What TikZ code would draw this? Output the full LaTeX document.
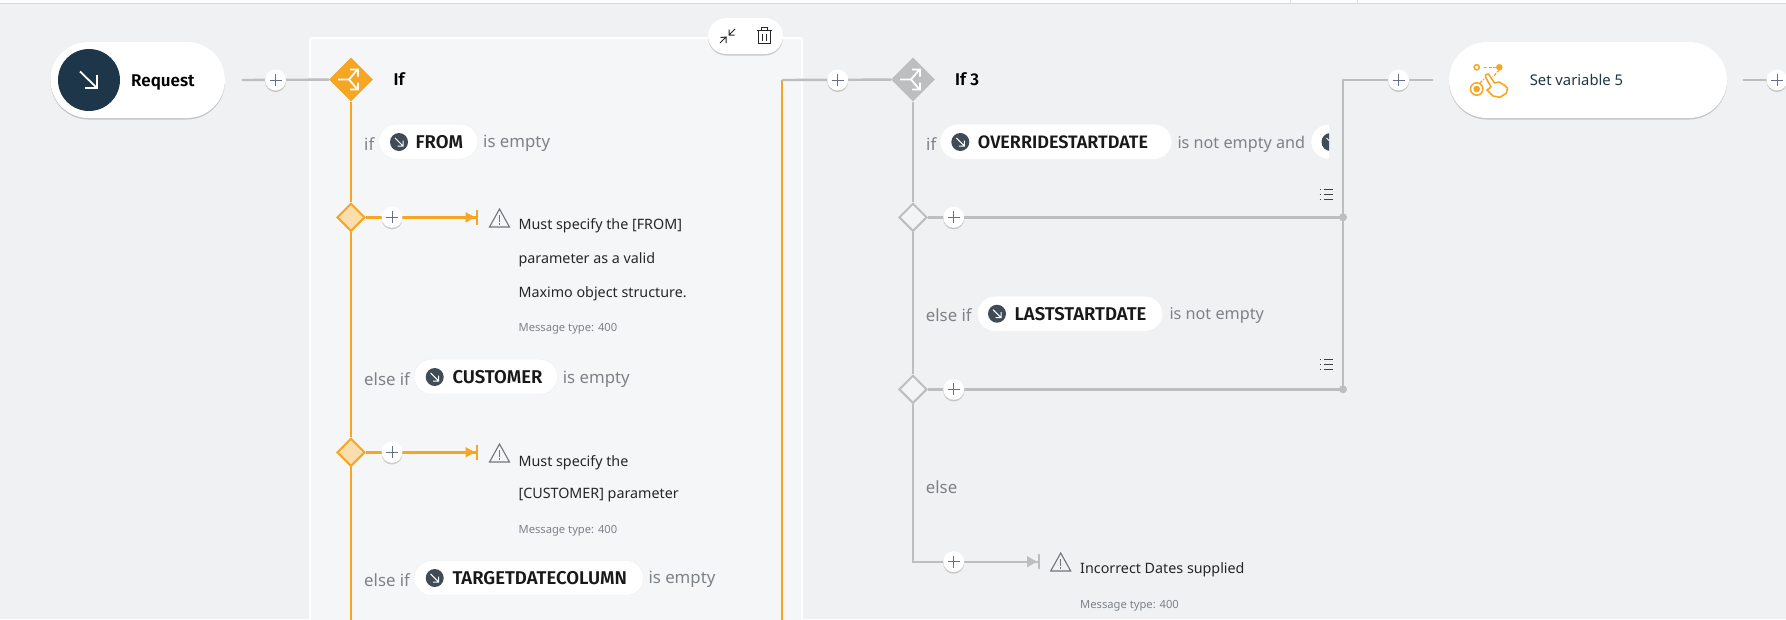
\documentclass[tikz,border=0pt]{standalone}
\usepackage{fontspec}
\setmainfont{Noto Sans}
\newfontfamily\boldf{Fira Sans}[UprightFont=*-SemiBold,BoldFont=*-Bold]
\usetikzlibrary{shapes.geometric,shadows,arrows.meta}
\definecolor{bgc}{HTML}{F0F1F3}
\definecolor{panelc}{HTML}{F5F6F8}
\definecolor{org}{HTML}{F5A623}
\definecolor{orgl}{HTML}{FBDDAE}
\definecolor{gry}{HTML}{BDBEC0}
\definecolor{navy}{HTML}{1D3649}
\definecolor{slatec}{HTML}{3F4B57}
\definecolor{txtg}{HTML}{7C8288}
\definecolor{plusc}{HTML}{66708A}
\tikzset{x=1pt,y=-1pt,
 softshadow/.style={drop shadow={shadow xshift=0pt,shadow yshift=-1.5pt,opacity=.18,fill=black}},
 bigpill/.style={draw=none,fill=white,rounded corners=38pt,minimum height=76pt,softshadow,inner sep=0pt},
 chip/.style={draw=black!6,line width=.5pt,fill=white,rounded corners=17.5pt,minimum height=35pt,inner sep=0pt},
 plusbtn/.style={circle,fill=white,minimum size=21pt,inner sep=0pt,softshadow,
   path picture={\draw[plusc,line width=.8pt] (path picture bounding box.center) ++(-6,0) -- ++(12,0) ++(-6,-6) -- ++(0,12);}},
 bigdia/.style={diamond,aspect=1,minimum size=44pt,inner sep=0pt,fill=#1},
 smalldia/.style={diamond,aspect=1,minimum size=28pt,inner sep=0pt,line width=2pt},
 wire/.style={line width=2.4pt},
 title/.style={font=\fontsize{17}{20}\boldf,anchor=west,inner sep=0pt,text=black},
 cond/.style={font=\fontsize{16.8}{20}\selectfont,anchor=west,inner sep=0pt,text=txtg},
 condn/.style={font=\fontsize{16.2}{20}\selectfont,anchor=west,inner sep=0pt,text=txtg},
 chiptxt/.style={font=\fontsize{18.5}{20}\boldf,anchor=west,inner sep=0pt,text=black!90},
 msg/.style={font=\fontsize{14.3}{16}\selectfont,anchor=west,inner sep=0pt,text=black!85},
 msgsub/.style={font=\fontsize{11.2}{12}\selectfont,anchor=west,inner sep=0pt,text=txtg},
 cdot/.style={circle,fill=slatec,minimum size=18pt,inner sep=0pt},
}
\newcommand{\branchicon}[1]{\draw[white,line width=1.8pt,shift={(#1)}] (-13,0) -- (-2,0) -- (6.5,-10) (-1,-10) -- (7,-10) -- (7,-3) (-2,0) -- (6.5,10) (-1,10) -- (7,10) -- (7,3);}
\newcommand{\arrowin}[1]{\draw[white,line width=1pt,shift={(#1)}] (-4,-4) -- (4,4) (-1.5,4) -- (4,4) -- (4,-1.5);}
\newcommand{\warnicon}[1]{\begin{scope}[shift={(#1)}]\draw[txtg!90!black,line width=1.1pt,line join=miter] (0,-9) -- (10,9) -- (-10,9) -- cycle;\draw[txtg!90!black,line width=1.1pt] (0,-3) -- (0,3.5) (0,5) -- (0,6.5);\end{scope}}
\newcommand{\listicon}[1]{\draw[black!75,line width=.9pt,shift={(#1)}] (-6.5,-5) -- (-5,-5) (-2.5,-5) -- (6.5,-5) (-6.5,0) -- (-5,0) (-2.5,0) -- (6.5,0) (-6.5,5) -- (-5,5) (-2.5,5) -- (6.5,5);}
\begin{document}
\begin{tikzpicture}
\useasboundingbox (0,0) rectangle (1786,619);
\fill[bgc] (0,0) rectangle (1786,619);
\fill[black!1] (0,0) rectangle (1786,3.5);
\draw[black!14,line width=1pt] (0,3.6) -- (1786,3.6) (1290,0) -- (1290,3.6) (1357,0) -- (1357,3.6);
% panel
\draw[white,line width=2pt,fill=panelc,rounded corners=2pt] (310,640) -- (310,38) -- (802,38) -- (802,640);
% named points
\coordinate (rqstub) at (242,80);
\coordinate (o2top) at (782,80);
\coordinate (o2bot) at (782,640);
\coordinate (o1bot) at (351,640);
\coordinate (j1) at (1343,217.3);
\coordinate (j2) at (1343,389.3);
\coordinate (jt) at (1343,80);
\coordinate (svstub) at (1432.5,80);
\coordinate (rstub) at (1743,80);
\coordinate (rend) at (1800,80);
\coordinate (elbow) at (913,561.7);
\coordinate (stopa) at (476.8,217.3);
\coordinate (stopb) at (476.8,452.3);
\coordinate (stopc) at (1039,561.7);
% nodes
\node[bigdia=org] (ifa) at (351,79.5) {};
\node[bigdia=gry] (ifb) at (913,79.5) {};
\node[smalldia,draw=org,fill=orgl] (da1) at (351,217.3) {};
\node[smalldia,draw=org,fill=orgl] (da2) at (351,452.3) {};
\node[smalldia,draw=gry,fill=bgc!80!white] (db1) at (913,217.3) {};
\node[smalldia,draw=gry,fill=bgc!80!white] (db2) at (913,389.3) {};
% wires
\draw[org,wire] (ifa) -- (da1);
\draw[org,wire] (da1) -- (da2);
\draw[org,wire] (da2) -- (o1bot);
\draw[org,wire] (o2top) -- (o2bot);
\draw[org,wire] (da1) -- (stopa);
\draw[org,wire] (da2) -- (stopb);
\draw[gry,wire] (rqstub) -- (ifa);
\draw[gry,wire] (o2top) -- (ifb);
\draw[gry,wire] (ifb) -- (db1);
\draw[gry,wire] (db1) -- (db2);
\draw[gry,wire] (db2) -- (elbow) -- (stopc);
\draw[gry,wire] (db1) -- (j1);
\draw[gry,wire] (db2) -- (j2);
\draw[gry,wire] (j2) -- (jt) -- (svstub);
\draw[gry,wire] (rstub) -- (rend);
\fill[gry] (j1) circle (4) (j2) circle (4);
% arrow stops
\fill[org] (475,217.3) -- (465.5,212) -- (465.5,222.6) -- cycle;
\fill[org] (475,452.3) -- (465.5,447) -- (465.5,457.6) -- cycle;
\fill[gry] (1037,561.7) -- (1027,556) -- (1027,567.4) -- cycle;
\draw[org,line width=2.2pt] (stopa) ++(0,-7.5) -- ++(0,15);
\draw[org,line width=2.2pt] (stopb) ++(0,-7.5) -- ++(0,15);
\draw[gry,line width=2.6pt] (stopc) ++(0,-7.5) -- ++(0,15);
% plus buttons
\node[plusbtn] (p1) at (275.5,80) {};
\node[plusbtn] (p2) at (837.7,80) {};
\node[plusbtn] (p3) at (1398.6,80) {};
\node[plusbtn] (p4) at (1777,80) {};
\node[plusbtn] (p5) at (392,217.3) {};
\node[plusbtn] (p6) at (392,452.4) {};
\node[plusbtn] (p7) at (953.7,217.3) {};
\node[plusbtn] (p8) at (953.7,389.4) {};
\node[plusbtn] (p9) at (953.7,561.7) {};
\branchicon{ifa.center}
\branchicon{ifb.center}
% Request
\node[bigpill,minimum width=174.5pt] (req) at (137.7,80) {};
\node[circle,fill=navy,minimum size=62pt,inner sep=0pt] (reqc) at (89,80) {};
\draw[white,line width=1.8pt,shift={(reqc.center)}] (-9,-8.5) -- (8,8) (-4,8) -- (8,8) -- (8,-5);
\node[title] (reqt) at (131,82.5) {Request};
% Set variable
\node[bigpill,minimum width=278pt] (sv) at (1588,80) {};
\node[anchor=west,inner sep=0pt,font=\fontsize{14.8}{17}\selectfont,text=navy] (svt) at (1529.6,80) {Set variable 5};
\begin{scope}[org,line width=1.5pt]
\draw (1476.7,67.3) circle (2.6);
\draw[dash pattern=on 3pt off 1.5pt] (1484,67.3) -- (1496,67.3);
\fill (1499.3,67.3) circle (3.3);
\draw[dash pattern=on 3pt off 1.5pt,line width=1.2pt] (1499,70) -- (1493,77) (1480,83) -- (1484,79);
\draw (1476.7,89) circle (6.2);
\fill (1476.7,89) circle (3.3);
\draw[line join=round,line width=1.6pt] (1485.7,74.7) -- (1488.5,74) -- (1494.5,83) -- (1499,82) -- (1504,85) -- (1507.5,88) -- (1506.5,93) -- (1500,97.3) -- (1493,96) -- (1487,90) -- (1491,87) -- (1485.5,77) -- cycle;
\end{scope}
% titles
\node[title] (tifa) at (393.5,79.5) {If};
\node[title] (tifb) at (955,79.5) {If 3};
% If conditions
\node[cond] (c1) at (364,143.8) {if};
\node[chip,minimum width=99pt] (c1p) at (428.3,141.5) {};
\node[cdot] (c1d) at (399,142) {}; \arrowin{c1d.center}
\node[chiptxt] (c1t) at (415.5,142.5) {FROM};
\node[cond] (c1e) at (483,143.8) {is empty};
\node[cond] (c2) at (364,379) {else if};
\node[chip,minimum width=143.5pt] (c2p) at (485.8,376.7) {};
\node[cdot] (c2d) at (434.7,377) {}; \arrowin{c2d.center}
\node[chiptxt] (c2t) at (452.3,377.5) {CUSTOMER};
\node[cond] (c2e) at (562.7,379) {is empty};
\node[cond] (c3) at (364,579.8) {else if};
\node[chip,minimum width=229.5pt] (c3p) at (528.8,578) {};
\node[cdot] (c3d) at (434.7,578) {}; \arrowin{c3d.center}
\node[chiptxt] (c3t) at (452.3,578.5) {TARGETDATECOLUMN};
\node[cond] (c3e) at (648.3,579.8) {is empty};
% If 3 conditions
\node[cond] (d1) at (926,143.8) {if};
\node[chip,minimum width=232pt] (d1p) at (1056,141.7) {};
\node[cdot] (d1d) at (960.3,142) {}; \arrowin{d1d.center}
\node[chiptxt,font=\fontsize{18}{20}\boldf] (d1t) at (977.7,142.5) {OVERRIDESTARTDATE};
\node[condn] (d1e) at (1177.3,143.8) {is not empty and};
\begin{scope}
\clip (1305,120) rectangle (1329,162);
\node[chip,minimum width=60pt] (d1q) at (1341,141.7) {};
\node[cdot] (d1qd) at (1330.5,142) {}; \arrowin{d1qd.center}
\end{scope}
\node[cond] (d2) at (925.7,315.3) {else if};
\node[chip,minimum width=185.5pt] (d2p) at (1070,313.7) {};
\node[cdot] (d2d) at (997,313.7) {}; \arrowin{d2d.center}
\node[chiptxt] (d2t) at (1014.3,314.2) {LASTSTARTDATE};
\node[condn] (d2e) at (1169.3,315.3) {is not empty};
\node[cond] (d3) at (925.7,487) {else};
\listicon{1326,194}
\listicon{1326,364.5}
% messages
\warnicon{499.5,218}
\node[msg] (m1) at (518.4,226) {Must specify the [FROM]};
\node[msg] (m2) at (518.4,260) {parameter as a valid};
\node[msg] (m3) at (518.4,294) {Maximo object structure.};
\node[msgsub] (m4) at (518.4,329) {Message type: 400};
\warnicon{499.5,453}
\node[msg] (n1) at (518.4,462.5) {Must specify the};
\node[msg] (n2) at (518.4,495) {[CUSTOMER] parameter};
\node[msgsub] (n3) at (518.4,531) {Message type: 400};
\warnicon{1060.7,562}
\node[msg] (o1) at (1080,569.8) {Incorrect Dates supplied};
\node[msgsub] (o2) at (1080,605.5) {Message type: 400};
% toolbar
\node[fill=white,rounded corners=18pt,minimum width=75pt,minimum height=36pt,inner sep=0pt,softshadow] (tb) at (745.5,36) {};
\begin{scope}[black!85,line width=1pt]
\draw (720,43) -- (726,37) (720.5,37.5) -- (726,37) -- (726,43);
\draw (735,29) -- (729,35) (729,29.5) -- (729,35) -- (734.5,35);
\draw (757,30) -- (771.5,30) (761,30) -- (761,27.5) -- (767.5,27.5) -- (767.5,30) (758.5,30) -- (758.5,43.5) -- (770,43.5) -- (770,30) (762.5,33.5) -- (762.5,40.5) (766,33.5) -- (766,40.5);
\end{scope}
\end{tikzpicture}
\end{document}
